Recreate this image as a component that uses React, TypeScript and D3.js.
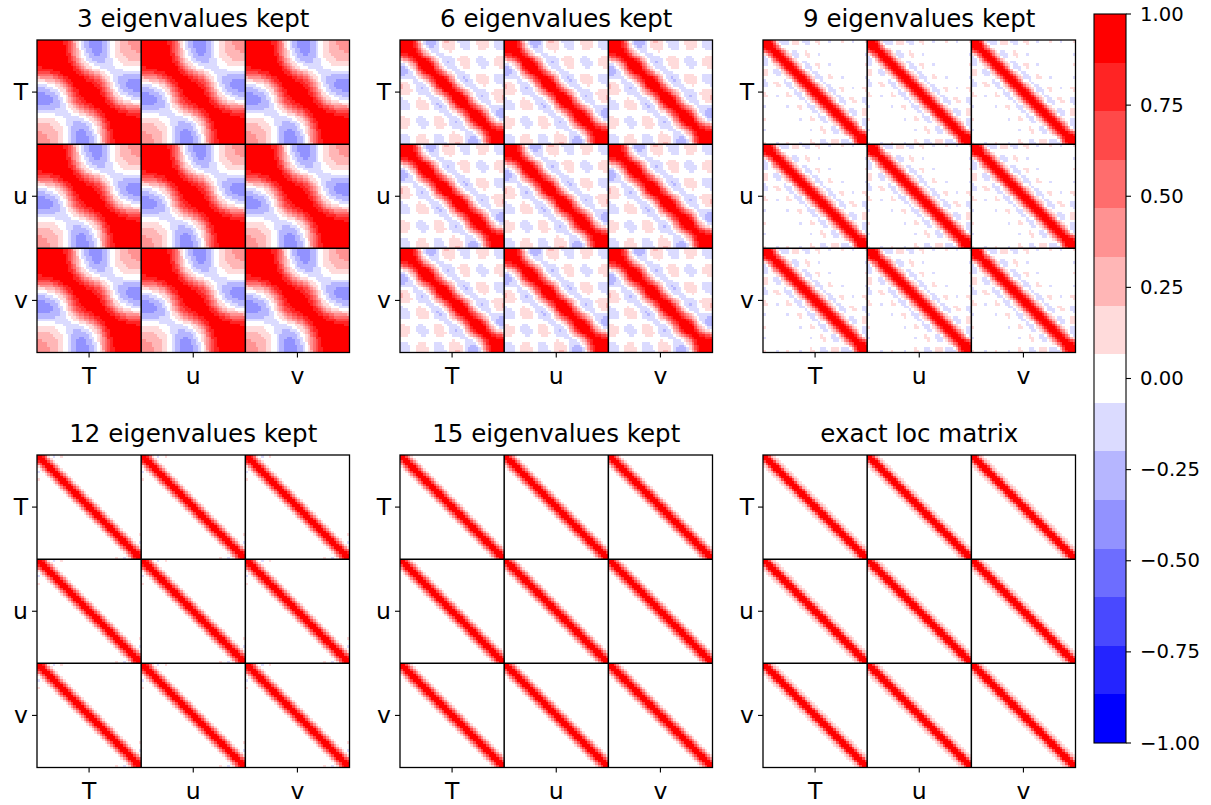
import React, { useMemo } from "react";
import * as d3 from "d3";

// ---- data / model parameters ----
const N_GRID = 40; // grid points per variable
const LOC_LENGTH = 2.0; // Gaussian localisation length (grid units)
const VARIABLES = ["T", "u", "v"];
const KEPT_COUNTS = [3, 6, 9, 12, 15, 0]; // 0 => exact
const PANEL_TITLES = [
  "3 eigenvalues kept",
  "6 eigenvalues kept",
  "9 eigenvalues kept",
  "12 eigenvalues kept",
  "15 eigenvalues kept",
  "exact loc matrix",
];
const CBAR_TICKS = [-1, -0.75, -0.5, -0.25, 0, 0.25, 0.5, 0.75, 1];
const N_LEVELS = 15;

// ---- layout ----
const W = 1211;
const H = 805;
const COL_X = [37, 400, 763];
const ROW_Y = [40, 455];
const PANEL = 312.5;
const CB = { x: 1094, y: 14, w: 32, h: 729 };
const FONT = "DejaVu Sans, Liberation Sans, sans-serif";

function bwr(t: number): string {
  let r: number, g: number, b: number;
  if (t < 0.5) {
    r = g = 2 * t;
    b = 1;
  } else {
    r = 1;
    g = b = 2 * (1 - t);
  }
  return d3.rgb(Math.round(r * 255), Math.round(g * 255), Math.round(b * 255)).formatHex();
}
const LEVEL_COLORS = d3.range(N_LEVELS).map((i) => bwr(i / (N_LEVELS - 1)));

function jacobiEigen(A: number[][]) {
  const n = A.length;
  const a = A.map((r) => r.slice());
  const V = d3.range(n).map((i) => d3.range(n).map((j) => (i === j ? 1 : 0)));
  for (let sweep = 0; sweep < 100; sweep++) {
    let off = 0;
    for (let p = 0; p < n; p++) for (let q = p + 1; q < n; q++) off += a[p][q] * a[p][q];
    if (off < 1e-22) break;
    for (let p = 0; p < n; p++) {
      for (let q = p + 1; q < n; q++) {
        const apq = a[p][q];
        if (Math.abs(apq) < 1e-15) continue;
        const app = a[p][p];
        const aqq = a[q][q];
        const theta = (aqq - app) / (2 * apq);
        const t = (theta >= 0 ? 1 : -1) / (Math.abs(theta) + Math.sqrt(theta * theta + 1));
        const c = 1 / Math.sqrt(t * t + 1);
        const s = t * c;
        for (let k = 0; k < n; k++) {
          if (k === p || k === q) continue;
          const akp = a[k][p];
          const akq = a[k][q];
          a[k][p] = a[p][k] = c * akp - s * akq;
          a[k][q] = a[q][k] = s * akp + c * akq;
        }
        a[p][p] = app - t * apq;
        a[q][q] = aqq + t * apq;
        a[p][q] = a[q][p] = 0;
        for (let k = 0; k < n; k++) {
          const vkp = V[k][p];
          const vkq = V[k][q];
          V[k][p] = c * vkp - s * vkq;
          V[k][q] = s * vkp + c * vkq;
        }
      }
    }
  }
  const vals = d3.range(n).map((i) => a[i][i]);
  const order = d3.range(n).sort((i, j) => vals[j] - vals[i]);
  return {
    values: order.map((i) => vals[i]),
    vectors: order.map((k) => d3.range(n).map((i) => V[i][k])),
  };
}

function buildMatrices() {
  const n = N_GRID;
  const C = d3.range(n).map((i) =>
    d3.range(n).map((j) => Math.exp(-((i - j) ** 2) / (2 * LOC_LENGTH * LOC_LENGTH)))
  );
  const eig = jacobiEigen(C);
  return KEPT_COUNTS.map((K) => {
    if (K === 0) return C;
    const B = d3.range(n).map((i) =>
      d3.range(n).map((j) => {
        let s = 0;
        for (let k = 0; k < K; k++) s += eig.values[k] * eig.vectors[k][i] * eig.vectors[k][j];
        return s;
      })
    );
    return B.map((row, i) => row.map((v, j) => v / Math.sqrt(B[i][i] * B[j][j])));
  });
}

type Run = { i: number; j0: number; j1: number; c: string };

export default function App() {
  const mats = useMemo(buildMatrices, []);
  const color = d3.scaleQuantize<string>().domain([-1, 1]).range(LEVEL_COLORS);
  const cell = d3.scaleLinear().domain([0, N_GRID]).range([0, PANEL / 3]);
  const blockBand = d3.scaleBand<number>().domain([0, 1, 2]).range([0, PANEL]);

  const runs: Run[][] = mats.map((M) => {
    const out: Run[] = [];
    M.forEach((row, i) => {
      let j0 = 0;
      let c = color(row[0]);
      for (let j = 1; j <= row.length; j++) {
        const cj = j < row.length ? color(row[j]) : "";
        if (cj !== c) {
          if (c !== "#ffffff") out.push({ i, j0, j1: j, c });
          j0 = j;
          c = cj;
        }
      }
    });
    return out;
  });

  const cbY = d3.scaleLinear().domain([-1, 1]).range([CB.y + CB.h, CB.y]);
  const levels = d3.range(N_LEVELS + 1).map((k) => -1 + (2 * k) / N_LEVELS);
  const fmt = (v: number) => d3.format(".2f")(v).replace("-", "\u2212");

  return (
    <svg
      width={W}
      height={H}
      style={{ display: "block", position: "absolute", left: 0, top: 0, background: "#fff" }}
      fontFamily={FONT}
    >
      <rect x={0} y={0} width={W} height={H} fill="#fff" />
      <defs>
        {runs.map((rs, p) => (
          <g key={p} id={`blk${p}`}>
            {rs.map((r, k) => (
              <rect
                key={k}
                x={cell(r.j0)}
                y={cell(r.i)}
                width={cell(r.j1) - cell(r.j0)}
                height={cell(1) - cell(0)}
                fill={r.c}
                shapeRendering="crispEdges"
              />
            ))}
          </g>
        ))}
      </defs>
      {PANEL_TITLES.map((title, p) => {
        const x0 = COL_X[p % 3];
        const y0 = ROW_Y[Math.floor(p / 3)];
        return (
          <g key={p}>
            {[0, 1, 2].map((bi) =>
              [0, 1, 2].map((bj) => (
                <use
                  key={`${bi}-${bj}`}
                  href={`#blk${p}`}
                  transform={`translate(${x0 + (blockBand(bj) as number)},${y0 + (blockBand(bi) as number)})`}
                />
              ))
            )}
            {[1, 2].map((b) => (
              <g key={b}>
                <line
                  x1={x0 + (blockBand(b) as number)}
                  x2={x0 + (blockBand(b) as number)}
                  y1={y0}
                  y2={y0 + PANEL}
                  stroke="#000"
                  strokeWidth={1.5}
                />
                <line
                  y1={y0 + (blockBand(b) as number)}
                  y2={y0 + (blockBand(b) as number)}
                  x1={x0}
                  x2={x0 + PANEL}
                  stroke="#000"
                  strokeWidth={1.5}
                />
              </g>
            ))}
            <rect x={x0} y={y0} width={PANEL} height={PANEL} fill="none" stroke="#000" strokeWidth={1.3} />
            {VARIABLES.map((v, b) => {
              const c = (blockBand(b) as number) + blockBand.bandwidth() / 2;
              return (
                <g key={v}>
                  <line x1={x0 - 5} x2={x0} y1={y0 + c} y2={y0 + c} stroke="#000" strokeWidth={1.1} />
                  <text
                    x={x0 - 9}
                    y={y0 + c}
                    textAnchor="end"
                    dominantBaseline="central"
                    fontSize={23.5}
                  >
                    {v}
                  </text>
                  <line
                    x1={x0 + c}
                    x2={x0 + c}
                    y1={y0 + PANEL}
                    y2={y0 + PANEL + 5}
                    stroke="#000"
                    strokeWidth={1.1}
                  />
                  <text x={x0 + c} y={y0 + PANEL + 31} textAnchor="middle" fontSize={23.5}>
                    {v}
                  </text>
                </g>
              );
            })}
            <text x={x0 + PANEL / 2} y={y0 - 13} textAnchor="middle" fontSize={24.5}>
              {title}
            </text>
          </g>
        );
      })}
      {/* colorbar */}
      <g>
        {LEVEL_COLORS.map((c, k) => (
          <rect
            key={k}
            x={CB.x}
            y={cbY(levels[k + 1])}
            width={CB.w}
            height={cbY(levels[k]) - cbY(levels[k + 1])}
            fill={c}
            shapeRendering="crispEdges"
          />
        ))}
        <rect x={CB.x} y={CB.y} width={CB.w} height={CB.h} fill="none" stroke="#000" strokeWidth={1.1} />
        {CBAR_TICKS.map((t) => (
          <g key={t}>
            <line x1={CB.x + CB.w} x2={CB.x + CB.w + 5} y1={cbY(t)} y2={cbY(t)} stroke="#000" strokeWidth={1.1} />
            <text x={CB.x + CB.w + 14} y={cbY(t)} dominantBaseline="central" fontSize={19.6}>
              {fmt(t)}
            </text>
          </g>
        ))}
      </g>
    </svg>
  );
}
